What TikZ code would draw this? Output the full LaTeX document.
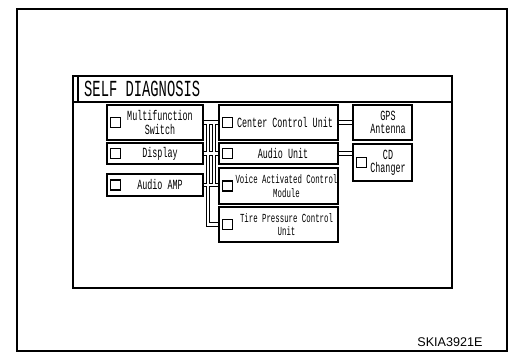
\documentclass[tikz,border=0pt]{standalone}
\usepackage{fontspec}
\setmainfont{Liberation Sans}
\newfontfamily\diagfont{Liberation Mono}[FakeStretch=0.6]
\usetikzlibrary{positioning}

\begin{document}
\begin{tikzpicture}[
    x=1pt, y=-1pt,
    unit/.style={rectangle, draw, line width=1.3pt, inner sep=0pt},
    chk/.style={rectangle, draw, line width=1.1pt, minimum size=10pt, inner sep=0pt},
    txt/.style={align=center, inner sep=0pt, font=\diagfont\fontsize{14}{13.5}\selectfont},
    small/.style={align=center, inner sep=0pt, font=\diagfont\fontsize{12.3}{13.5}\selectfont},
    bus/.style={double, line width=1.1pt, double distance=2.6pt}
]

% -------- Layout --------
\def\xleft{155}
\def\xmid{278.5}
\def\xright{382.5}

\useasboundingbox (0,0) rectangle (512,352);

% -------- Frame + screen --------
\draw[line width=1.3pt] (17,9) rectangle (507,351);
\draw[line width=1.3pt] (73,76) rectangle (452,288);
\draw[line width=1.2pt] (73,102) -- (452,102);
\draw[line width=1.2pt] (78,76) -- (78,102);
\node[anchor=west, inner sep=0pt, font=\diagfont\fontsize{23}{24}\selectfont]
    (title) at (84,89) {SELF DIAGNOSIS};

% -------- Left column --------
\node[unit, minimum width=96pt, minimum height=35pt] (multi) at (\xleft,122.5) {};
\node[unit, minimum width=96pt, minimum height=21pt] (disp) at (\xleft,153.5) {};
\node[unit, minimum width=96pt, minimum height=22pt] (amp) at (\xleft,185) {};

% -------- Middle column --------
\node[unit, minimum width=119pt, minimum height=35pt] (ccu) at (\xmid,122.5) {};
\node[unit, minimum width=119pt, minimum height=21pt] (audio) at (\xmid,153.5) {};
\node[unit, minimum width=119pt, minimum height=36pt] (voice) at (\xmid,186) {};
\node[unit, minimum width=119pt, minimum height=35pt] (tire) at (\xmid,224.5) {};

% -------- Right column --------
\node[unit, minimum width=59pt, minimum height=35pt] (gps) at (\xright,122.5) {};
\node[unit, minimum width=59pt, minimum height=37pt] (cd) at (\xright,162.5) {};

% -------- Check boxes --------
\foreach \b in {multi,disp,amp,ccu,audio,voice,tire} {
    \node[chk, right=4pt of \b.west] (\b c) {};
}
\node[chk, right=4pt of cd.west] (cdc) {};

% -------- Labels --------
\node[txt] (multiT) at ([xshift=5pt]multi.center) {Multifunction\\Switch};
\node[txt] (dispT) at ([xshift=5pt]disp.center) {Display};
\node[txt] (ampT) at ([xshift=5pt]amp.center) {Audio AMP};
\node[txt] (ccuT) at ([xshift=6.5pt]ccu.center) {Center Control Unit};
\node[txt] (audioT) at ([xshift=4.5pt]audio.center) {Audio Unit};
\node[small] (voiceT) at ([xshift=8pt]voice.center) {Voice Activated Control\\Module};
\node[small] (tireT) at ([xshift=8pt]tire.center) {Tire Pressure Control\\Unit};
\node[txt] (gpsT) at ([xshift=5.5pt]gps.center) {GPS\\Antenna};
\node[txt] (cdT) at ([xshift=5.5pt,yshift=-0.5pt]cd.center) {CD\\Changer};

% -------- Bus lines --------
\coordinate (trunkL) at (208,0);
\coordinate (trunkR) at (214,0);
\draw[bus] (multi.east) -- (ccu.west)
           (disp.east) -- (audio.west)
           (amp.east) -- (amp.east -| voice.west)
           (multi.east -| trunkL) -- (tire.west -| trunkL) -- (tire.west)
           (multi.east -| trunkR) -- (amp.east -| trunkR);
\draw[bus] (ccu.east) -- (gps.west);
\draw[bus] (audio.east) -- (audio.east -| cd.west);

% -------- Figure code --------
\node[inner sep=0pt, font=\fontsize{12.6}{14}\selectfont] (code) at (450,342) {SKIA3921E};

\end{tikzpicture}
\end{document}
